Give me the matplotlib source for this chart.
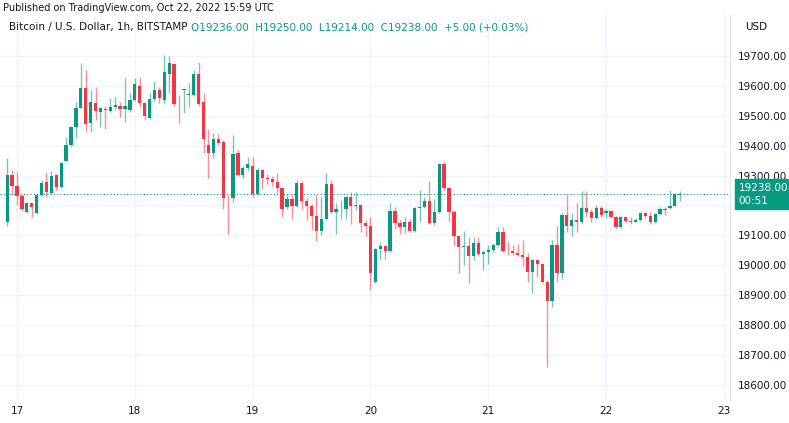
import matplotlib
matplotlib.use("Agg")
import matplotlib.pyplot as plt
from matplotlib.patches import Rectangle

# hours relative to Oct 17 00:00 (first candle Oct 16 22:00)
start_hour = -2
opens = [19146,19302,19265,19233,19177,19207,19174,19234,19277,19243,
         19302,19261,19350,19401,19461,19525,19592,19475,19542,19514,
         19522,19517,19530,19533,19522,19519,19553,19600,19542,19494,
         19555,19586,19553,19640,19673,19530,19585,19570,19570,19640,
         19547,19402,19377,19421,19413,19226,19224,19377,19302,19324,
         19332,19238,19319,19291,19287,19280,19257,19196,19222,19199,
         19276,19216,19199,19165,19116,19155,19272,19179,19188,19190,
         19229,19199,19202,19143,19130,18946,19054,19066,19049,19182,
         19141,19127,19146,19116,19191,19194,19216,19141,19180,19339,
         19258,19180,19098,19063,19065,19031,19074,19038,19045,19051,
         19068,19112,19049,19048,19042,19034,19029,18978,19017,19004,
         18943,18880,19068,18975,19168,19131,19151,19146,19193,19179,
         19159,19193,19174,19183,19163,19129,19163,19150,19146,19152,
         19174,19165,19146,19172,19187,19193,19199,19236]
closes = [19302,19265,19233,19188,19207,19194,19234,19274,19246,19300,
          19263,19343,19401,19461,19525,19592,19473,19545,19516,19525,
          19520,19530,19536,19522,19533,19553,19605,19542,19499,19555,
          19586,19558,19646,19675,19539,19528,19588,19570,19639,19538,
          19421,19377,19421,19410,19224,19224,19372,19302,19324,19339,
          19238,19319,19291,19287,19280,19257,19190,19222,19199,19276,
          19216,19199,19165,19116,19155,19272,19179,19188,19190,19229,
          19199,19202,19143,19130,18976,19054,19066,19049,19182,19141,
          19127,19146,19116,19191,19194,19216,19141,19180,19339,19258,
          19180,19098,19063,19065,19031,19074,19038,19045,19051,19068,
          19112,19049,19048,19042,19034,19029,18978,19017,19004,18943,
          18880,19068,18975,19168,19131,19151,19146,19193,19179,19159,
          19193,19168,19183,19163,19129,19163,19150,19146,19152,19174,
          19165,19146,19172,19187,19185,19199,19239,19238]
highs = [19358,19319,19311,19240,19213,19210,19241,19285,19311,19316,
         19305,19345,19428,19465,19545,19675,19651,19586,19595,19530,
         19533,19558,19562,19547,19625,19577,19625,19629,19545,19577,
         19616,19595,19703,19700,19676,19570,19588,19608,19651,19681,
         19577,19456,19441,19438,19418,19235,19436,19385,19332,19361,
         19361,19326,19321,19305,19300,19307,19258,19240,19238,19285,
         19283,19224,19204,19235,19230,19308,19285,19207,19218,19232,
         19246,19246,19206,19152,19163,19058,19079,19068,19208,19194,
         19152,19163,19155,19194,19252,19230,19283,19221,19342,19345,
         19258,19185,19091,19116,19094,19094,19094,19051,19067,19075,
         19129,19129,19081,19068,19071,19084,19040,19020,19017,19006,
         18951,19084,19131,19174,19235,19174,19207,19249,19249,19187,
         19201,19200,19187,19185,19165,19165,19163,19162,19158,19177,
         19180,19180,19174,19194,19195,19252,19243,19250]
lows = [19131,19235,19202,19185,19174,19163,19172,19232,19229,19238,
        19252,19258,19348,19399,19425,19525,19444,19444,19486,19461,
        19455,19513,19520,19497,19480,19514,19548,19530,19487,19490,
        19548,19543,19540,19575,19532,19477,19510,19530,19565,19534,
        19377,19291,19358,19402,19187,19105,19212,19297,19291,19316,
        19229,19235,19254,19272,19265,19241,19163,19188,19155,19196,
        19187,19151,19118,19081,19101,19151,19176,19105,19154,19154,
        19138,19185,19112,19098,18918,18942,19018,19020,19044,19122,
        19105,19108,19112,19112,19146,19192,19138,19136,19175,19253,
        19146,19066,18974,19001,18940,19018,19030,18986,19006,19045,
        19063,19045,19034,19034,19031,18997,18945,18908,18962,18942,
        18661,18861,18945,18953,19112,19098,19112,19140,19163,19145,
        19156,19163,19160,19160,19124,19124,19145,19140,19146,19150,
        19160,19140,19142,19180,19170,19187,19202,19214]

xticks = [0, 24, 48, 72, 96, 120, 144]
xlabels = ["17", "18", "19", "20", "21", "22", "23"]
yticks = [18600, 18700, 18800, 18900, 19000, 19100, 19200, 19300, 19400, 19500, 19600, 19700]

GREEN = "#089981"
RED = "#f23645"

fig = plt.figure(figsize=(7.89, 4.23), dpi=100)
ax = fig.add_axes([0, 0.054, 0.925, 0.911])
for i, (o, h, l, c) in enumerate(zip(opens, highs, lows, closes)):
    x = start_hour + i
    col = GREEN if c >= o else RED
    hi = max(h, o, c); lo = min(l, o, c)
    ax.vlines(x, lo, hi, color=col, alpha=0.55, linewidth=1.0, zorder=2)
    bot = min(o, c); ht = max(abs(c - o), 1.5)
    ax.add_patch(Rectangle((x - 0.33, bot), 0.66, ht, color=col, zorder=3, linewidth=0))

last = closes[-1]
ax.axhline(last, color=GREEN, linestyle=(0, (1, 2)), linewidth=0.8, zorder=1)
ax.set_xlim(-3.46, 145.2)
ax.set_ylim(18550, 19837)
ax.set_xticks(xticks)
ax.set_xticklabels(xlabels)
ax.set_yticks(yticks)
ax.grid(True, color="#f0f3fa", linewidth=1)
ax.tick_params(length=0, labelsize=7.5, colors="#131722")
ax.yaxis.tick_right()
# the 19200 label is hidden behind the last-price box in the reference
ax.set_yticklabels(["" if v == 19200 else f"{v:.2f}" for v in yticks])
for s in ["top", "left", "bottom"]:
    ax.spines[s].set_visible(False)
ax.spines["right"].set_color("#e0e3eb")
ax.tick_params(axis="y", pad=6)
ax.tick_params(axis="x", pad=4)
ax.set_axisbelow(True)

# price label
ax.text(1.012, (last - 18550) / (19837 - 18550), f"{last:.2f}\n00:51",
        transform=ax.transAxes, ha="left", va="center", color="white", fontsize=7.5,
        linespacing=1.4, bbox=dict(boxstyle="square,pad=0.3", fc=GREEN, ec=GREEN))

fig.text(0.004, 0.992, "Published on TradingView.com, Oct 22, 2022 15:59 UTC",
         ha="left", va="top", fontsize=7, color="#131722")
fig.text(0.945, 0.935, "USD", ha="left", va="center", fontsize=7.5, color="#131722")
t = fig.text(0.012, 0.935, "Bitcoin / U.S. Dollar, 1h, BITSTAMP ", ha="left", va="center",
             fontsize=7.5, color="#131722")
fig.canvas.draw()
bb = t.get_window_extent()
fig.text(bb.x1 / fig.bbox.width, 0.935,
         "O19236.00  H19250.00  L19214.00  C19238.00  +5.00 (+0.03%)",
         ha="left", va="center", fontsize=7.5, color=GREEN)
fig.savefig("out.png", dpi=100, facecolor="white")
